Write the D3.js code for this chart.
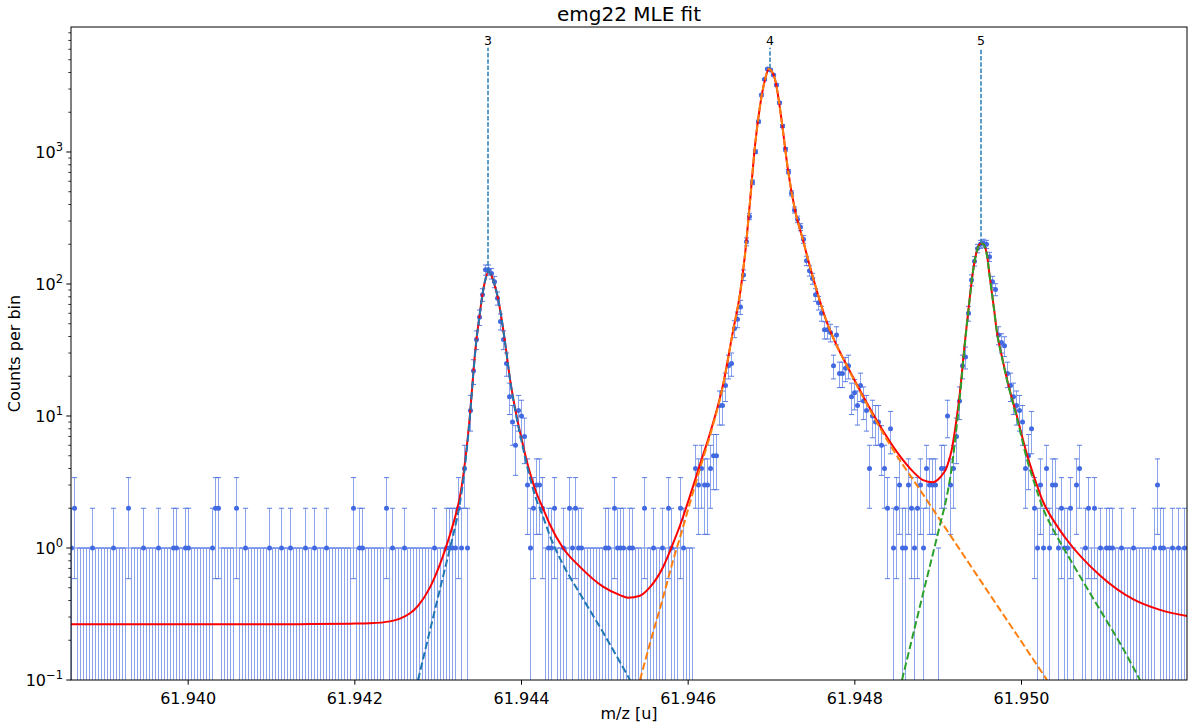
<!DOCTYPE html>
<html><head><meta charset="utf-8">
<script src="https://cdn.jsdelivr.net/npm/d3@7"></script>
<style>
body{margin:0;background:#fff}
svg{display:block}
text{font-family:"DejaVu Sans",sans-serif;fill:#000}
</style>
</head><body>
<svg id="c" width="1194" height="728"></svg>
<script>
// ---------------- data ----------------
const binStart = 61.9386;      // centre of first bin [u]
const binWidth = 0.000036;     // bin width [u]
const counts = [
 1,2,0,0,0,0,0,1,0,0,
 0,0,0,0,1,0,0,0,0,2,
 0,0,0,0,1,0,0,0,0,1,
 0,0,0,0,1,1,0,0,1,1,
 0,0,0,0,0,0,0,1,2,2,
 0,0,0,0,0,2,0,0,1,0,
 0,0,0,0,0,0,1,0,0,0,
 1,0,0,1,0,0,0,0,1,0,
 0,1,0,0,0,1,0,0,0,0,
 0,0,0,0,2,0,1,1,0,0,
 0,0,0,0,0,2,0,1,0,0,
 0,1,0,0,0,0,0,0,0,0,
 0,1,0,0,0,1,1,1,1,2,
 1,4,1,11,22,38,56,83,128,128,
 120,104,78,52,38,25,14,9,6,11,
 10,7,3,1,2,3,3,2,0,1,
 1,2,0,0,1,0,2,1,2,1,
 1,0,0,0,0,0,0,0,1,1,
 0,2,1,1,1,0,1,1,0,0,
 0,2,0,0,1,0,0,1,0,2,
 1,0,0,2,1,0,0,0,4,3,
 4,3,3,4,5,5,12,12,17,24,
 25,46,54,67,117,209,325,590,1005,1700,
 2704,3550,4255,4180,3830,3220,2362,1574,1047,710,
 486,364,309,270,218,150,126,110,83,72,
 60,45,45,43,24,41,21,21,23,24,
 14,15,12,17,13,11,4,10,9,9,
 6,4,2,8,1,2,3,1,1,3,
 2,1,2,3,1,4,3,3,3,0,
 4,4,10,3,4,7,13,24,28,60,
 107,149,186,200,204,200,161,104,91,41,
 36,34,21,17,14,12,11,9,4,5,
 8,2,1,3,1,4,1,3,3,1,
 2,1,1,2,0,3,4,0,1,2,
 0,2,0,1,0,1,1,1,0,0,
 1,0,0,0,1,0,0,0,0,0,
 0,1,3,1,1,0,0,1,0,1,
 0,1,0
];

// total fit (red)
const fitX = [61.938600,61.940148,61.941348,61.941948,61.942188,61.942428,61.942548,61.942668,61.942764,61.942908,
 61.943028,61.943148,61.943220,61.943268,61.943328,61.943388,61.943428,61.943460,61.943500,61.943536,
 61.943568,61.943608,61.943640,61.943676,61.943724,61.943772,61.943820,61.943868,61.943940,61.944012,
 61.944084,61.944168,61.944264,61.944348,61.944504,61.944708,61.944984,61.945188,61.945284,61.945428,
 61.945548,61.945704,61.945824,61.945908,61.946028,61.946148,61.946268,61.946424,61.946544,61.946628,
 61.946688,61.946748,61.946808,61.946868,61.946928,61.946976,61.947012,61.947048,61.947084,61.947132,
 61.947204,61.947288,61.947384,61.947468,61.947552,61.947612,61.947672,61.947768,61.947912,61.948152,
 61.948368,61.948548,61.948704,61.948824,61.948944,61.949028,61.949112,61.949172,61.949220,61.949268,
 61.949328,61.949376,61.949424,61.949472,61.949520,61.949556,61.949592,61.949628,61.949676,61.949712,
 61.949772,61.949832,61.949952,61.950072,61.950168,61.950264,61.950408,61.950552,61.950948,61.951344,
 61.951668,61.951992];
const fitY = [0.265,0.265,0.265,0.267,0.269,0.278,0.292,0.32,0.365,0.503,
 0.754,1.265,1.815,2.465,4.47,10.27,21.3,35.3,56,82,
 105,124,118,102,78,52,32,19,10.5,6.5,
 4.2,2.8,2.0,1.5,1.0,0.72,0.51,0.44,0.42,0.435,
 0.505,0.715,1.08,1.48,2.48,4.3,7.4,17.2,44,84,
 167,420,1117,2228,3532,4270,4050,3550,2700,1650,
 730,364,215,135,88,66,51,36.5,24,12.5,
 7.3,4.96,3.79,3.27,3.15,3.42,4.13,5.67,8.85,15.3,
 37,70,125,180,204,198,165,110,65,43,
 28,19,9.9,5.1,3.3,2.25,1.55,1.15,0.62,0.41,
 0.34,0.305];

// component of peak 3 (blue dashed)
const comp3X = [61.942764,61.942908,61.943028,61.943148,61.943220,61.943268,61.943328,61.943388,61.943428,61.943460,
 61.943500,61.943536,61.943568,61.943608,61.943640,61.943676,61.943724,61.943772,61.943820,61.943868,
 61.943940,61.944012,61.944084,61.944168,61.944264,61.944348,61.944504,61.944708,61.944984,61.945308];
const comp3Y = [0.1,0.238,0.489,1.0,1.55,2.2,4.2,10,21,35,
 56,82,105,124,118,102,78,52,32,19,
 10.2,6.2,3.9,2.5,1.73,1.23,0.75,0.45,0.23,0.1];

// component of peak 4 (orange dashed)
const comp4X = [61.945428,61.945548,61.945704,61.945824,61.945908,61.946028,61.946148,61.946268,61.946424,61.946544,
 61.946628,61.946688,61.946748,61.946808,61.946868,61.946928,61.946976,61.947012,61.947048,61.947084,
 61.947132,61.947204,61.947288,61.947384,61.947468,61.947552,61.947612,61.947672,61.947768,61.947912,
 61.948152,61.948368,61.948548,61.948704,61.949112,61.949508,61.949952,61.950312];
const comp4Y = [0.1,0.19,0.42,0.8,1.2,2.2,4.0,7.1,17,44,
 84,167,420,1117,2228,3532,4270,4050,3550,2700,
 1650,730,364,215,135,88,66,51,36.3,23.8,
 12.2,7.0,4.6,3.3,1.36,0.574,0.219,0.1];

// component of peak 5 (green dashed)
const comp5X = [61.948572,61.948704,61.948824,61.948944,61.949028,61.949112,61.949172,61.949220,61.949268,61.949328,
 61.949376,61.949424,61.949472,61.949520,61.949556,61.949592,61.949628,61.949676,61.949712,61.949772,
 61.949832,61.949952,61.950072,61.950168,61.950264,61.950408,61.950552,61.950948,61.951188,61.951428];
const comp5Y = [0.1,0.22,0.45,0.91,1.5,2.5,4.2,7.5,14.3,36,
 69,124,179,203.5,197.5,164.5,109.5,64.7,42.7,27.7,
 18.7,9.6,4.7,3.0,2.0,1.3,0.9,0.34,0.19,0.1];

// peak markers
const peakLabels = ["3","4","5"];
const peakPos = [61.943604,61.946988,61.949520];
const peakAmp = [124,4310,204];
const markerTop = 6150;

const xTicks = [61.940,61.942,61.944,61.946,61.948,61.950];
const yTicks = [0.1,1,10,100,1000];
const yTickExp = ["\u22121","0","1","2","3"];

// ---------------- drawing ----------------
const svg = d3.select("#c");
const L=71, R=1187, T=27, B=680;
const x = d3.scaleLinear().domain([binStart, binStart+(counts.length-1)*binWidth]).range([L,R]);
const y = d3.scaleLog().domain([0.1, 8850]).range([B,T]);

svg.append("defs").append("clipPath").attr("id","clip")
  .append("rect").attr("x",L).attr("y",T).attr("width",R-L).attr("height",B-T);

const bins = counts.map((c,i)=>({x: binStart + i*binWidth, c: c, e: c>0?Math.sqrt(c):1}));
const plot = svg.append("g").attr("clip-path","url(#clip)");
const eb = plot.append("g");
const blue = "#4169e1";
const yc = v => v>0 ? y(v) : B+10;
const px = v => Math.round(x(v))+0.5;

// error bars
eb.selectAll("line.bar").data(bins).join("line").attr("class","bar")
  .attr("x1",d=>px(d.x)).attr("x2",d=>px(d.x))
  .attr("y1",d=>yc(d.c-d.e)).attr("y2",d=>yc(d.c+d.e))
  .attr("stroke",blue).attr("stroke-width",1).attr("stroke-opacity",0.6);
// caps
const caps = [];
bins.forEach(d=>{ caps.push({x:d.x,v:d.c+d.e}); if(d.c-d.e>0) caps.push({x:d.x,v:d.c-d.e}); });
eb.selectAll("line.cap").data(caps).join("line").attr("class","cap")
  .attr("x1",d=>px(d.x)-2.6).attr("x2",d=>px(d.x)+2.6)
  .attr("y1",d=>y(d.v)).attr("y2",d=>y(d.v))
  .attr("stroke",blue).attr("stroke-width",1).attr("stroke-opacity",0.85);
// points
eb.selectAll("circle").data(bins.filter(d=>d.c>0)).join("circle")
  .attr("cx",d=>px(d.x)).attr("cy",d=>y(d.c)).attr("r",2.5).attr("fill",blue);

const line = d3.line().curve(d3.curveMonotoneX);
const mk = (xs,ys)=>line(xs.map((v,i)=>[x(v),y(ys[i])]));

plot.append("path").attr("d",mk(fitX,fitY)).attr("fill","none").attr("stroke","red").attr("stroke-width",2);
[[comp3X,comp3Y,"#1f77b4"],[comp4X,comp4Y,"#ff7f0e"],[comp5X,comp5Y,"#2ca02c"]].forEach(([xs,ys,col])=>{
  plot.append("path").attr("d",mk(xs,ys)).attr("fill","none").attr("stroke",col)
    .attr("stroke-width",2).attr("stroke-dasharray","7.4,3.2");
});

// peak markers
peakPos.forEach((p,i)=>{
  svg.append("line").attr("x1",x(p)).attr("x2",x(p)).attr("y1",y(peakAmp[i])).attr("y2",y(markerTop))
    .attr("stroke","#1f77b4").attr("stroke-opacity",0.8).attr("stroke-width",1.8).attr("stroke-dasharray","4.5,1.8");
  svg.append("text").attr("x",x(p)).attr("y",y(markerTop)-3).attr("text-anchor","middle")
    .attr("font-size",12.5).text(peakLabels[i]);
});

// axes
const ax = svg.append("g").attr("transform",`translate(0,${B})`)
  .call(d3.axisBottom(x).tickValues(xTicks).tickFormat(d3.format(".3f")).tickSize(4.7).tickPadding(4));
ax.select(".domain").remove();
ax.selectAll("text").attr("font-size",16).attr("font-family","DejaVu Sans").attr("dy","0.95em");
ax.selectAll("line").attr("stroke","#000").attr("stroke-width",1);

const minor = [];
for(let k=-1;k<=3;k++) for(let m=2;m<=9;m++){ const v=m*Math.pow(10,k); if(v<8850) minor.push(v); }
const ag = svg.append("g");
ag.selectAll("line.mn").data(minor).join("line").attr("class","mn")
  .attr("x1",L-2.7).attr("x2",L).attr("y1",d=>y(d)).attr("y2",d=>y(d)).attr("stroke","#000").attr("stroke-width",0.8);
ag.selectAll("line.mj").data(yTicks).join("line").attr("class","mj")
  .attr("x1",L-4.7).attr("x2",L).attr("y1",d=>y(d)).attr("y2",d=>y(d)).attr("stroke","#000").attr("stroke-width",1);
const yl = ag.selectAll("text.yt").data(yTicks).join("text").attr("class","yt")
  .attr("x",L-8).attr("y",d=>y(d)+5.8).attr("text-anchor","end").attr("font-size",16);
yl.append("tspan").text("10");
yl.append("tspan").attr("dy",-7).attr("font-size",11.5).text((d,i)=>yTickExp[i]);

// frame
svg.append("rect").attr("x",L).attr("y",T).attr("width",R-L).attr("height",B-T)
  .attr("fill","none").attr("stroke","#000").attr("stroke-width",1);

// labels
svg.append("text").attr("x",(L+R)/2).attr("y",21).attr("text-anchor","middle").attr("font-size",20).text("emg22 MLE fit");
svg.append("text").attr("x",(L+R)/2).attr("y",719).attr("text-anchor","middle").attr("font-size",16).text("m/z [u]");
svg.append("text").attr("transform",`translate(20,${(T+B)/2}) rotate(-90)`).attr("text-anchor","middle").attr("font-size",16).text("Counts per bin");
</script>
</body></html>
